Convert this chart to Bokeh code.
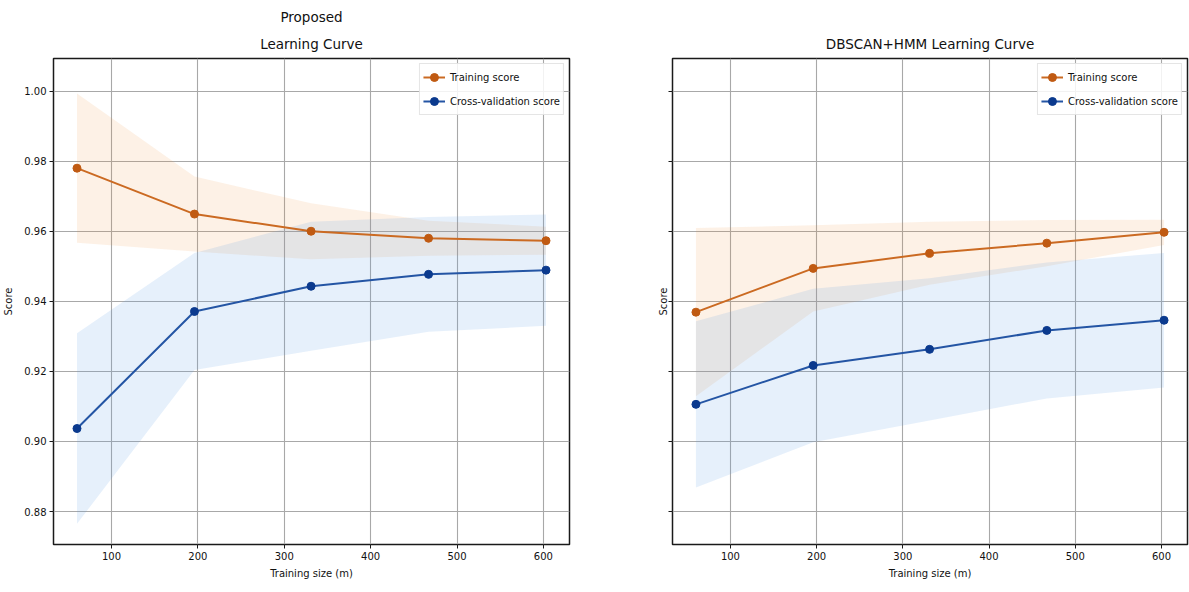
from bokeh.plotting import figure
from bokeh.layouts import row
from bokeh.models import Range1d, FixedTicker, PrintfTickFormatter, Title
from bokeh.embed import file_html
from bokeh.resources import INLINE

# ---------------- data ----------------
train_sizes = [60, 196, 331, 467, 603]
x_ticks = [100, 200, 300, 400, 500, 600]
y_ticks = [0.88, 0.90, 0.92, 0.94, 0.96, 0.98, 1.00]

# Proposed
prop_train_mean = [0.9780, 0.9649, 0.9600, 0.9580, 0.9573]
prop_train_std = [0.0213, 0.0107, 0.0080, 0.0050, 0.0040]
prop_cv_mean = [0.9037, 0.9371, 0.9443, 0.9477, 0.9489]
prop_cv_std = [0.0272, 0.0167, 0.0184, 0.0164, 0.0159]

# DBSCAN+HMM
dh_train_mean = [0.9369, 0.9494, 0.9537, 0.9566, 0.9597]
dh_train_std = [0.0240, 0.0123, 0.0090, 0.0066, 0.0036]
dh_cv_mean = [0.9106, 0.9217, 0.9263, 0.9317, 0.9346]
dh_cv_std = [0.0237, 0.0219, 0.0203, 0.0194, 0.0192]

FONT = "DejaVu Sans"
TRAIN_LINE = "#cb6a22"
TRAIN_MARK = "#c05a12"
TRAIN_FILL = "#f08c32"
CV_LINE = "#2455a4"
CV_MARK = "#0b3a8e"
CV_FILL = "#579ae6"


def make_plot(width, bl, br, titles, tm, ts, cm, cs, show_labels):
    p = figure(width=width, height=592, output_backend="svg", toolbar_location=None,
               title=None, x_range=Range1d(32.8, 630.2), y_range=Range1d(0.8706, 1.0093),
               min_border_left=bl, min_border_right=br, min_border_top=58, min_border_bottom=48)
    # titles (later-added sits further out)
    for i, t in enumerate(titles):
        p.add_layout(Title(text=t, align="center", text_font=FONT, text_font_size="13.5px",
                           text_font_style="normal", text_color="#111111",
                           standoff=14 if i == 0 else 3), "above")

    up_t = [m + s for m, s in zip(tm, ts)]
    lo_t = [m - s for m, s in zip(tm, ts)]
    up_c = [m + s for m, s in zip(cm, cs)]
    lo_c = [m - s for m, s in zip(cm, cs)]
    p.varea(x=train_sizes, y1=lo_t, y2=up_t, fill_color=TRAIN_FILL, fill_alpha=0.12)
    p.varea(x=train_sizes, y1=lo_c, y2=up_c, fill_color=CV_FILL, fill_alpha=0.15)

    p.line(train_sizes, tm, line_color=TRAIN_LINE, line_width=2, legend_label="Training score")
    p.scatter(train_sizes, tm, size=8, fill_color=TRAIN_MARK, line_color=TRAIN_MARK,
              legend_label="Training score")
    p.line(train_sizes, cm, line_color=CV_LINE, line_width=2, legend_label="Cross-validation score")
    p.scatter(train_sizes, cm, size=8, fill_color=CV_MARK, line_color=CV_MARK,
              legend_label="Cross-validation score")

    # frame & grid
    p.outline_line_color = "#1a1a1a"
    p.outline_line_width = 1.5
    p.background_fill_color = "white"
    p.border_fill_color = "white"
    p.xgrid.grid_line_color = "#a8a8a8"
    p.ygrid.grid_line_color = "#a8a8a8"
    p.xgrid.grid_line_width = 1.1
    p.ygrid.grid_line_width = 1.1

    p.xaxis.ticker = FixedTicker(ticks=x_ticks)
    p.yaxis.ticker = FixedTicker(ticks=y_ticks)
    p.yaxis.formatter = PrintfTickFormatter(format="%.2f")
    for ax in (p.xaxis, p.yaxis):
        ax.axis_line_color = None
        ax.major_tick_line_color = "#1a1a1a"
        ax.major_tick_out = 4
        ax.major_tick_in = 0
        ax.minor_tick_line_color = None
        ax.major_label_text_font = FONT
        ax.major_label_text_font_size = "10px"
        ax.major_label_text_color = "#111111"
        ax.axis_label_text_font = FONT
        ax.axis_label_text_font_size = "10px"
        ax.axis_label_text_font_style = "normal"
        ax.axis_label_text_color = "#111111"
    p.xaxis.axis_label = "Training size (m)"
    p.yaxis.axis_label = "Score"
    p.xaxis.major_label_standoff = 3
    p.xaxis.axis_label_standoff = 5
    if show_labels:
        p.yaxis.major_label_standoff = 3
        p.yaxis.axis_label_standoff = 7
    else:
        p.yaxis.major_label_text_color = None
        p.yaxis.major_label_standoff = 0
        p.yaxis.axis_label_standoff = 0

    lg = p.legend[0]
    lg.location = "top_right"
    lg.margin = 5
    lg.padding = 3
    lg.spacing = 4
    lg.glyph_width = 22
    lg.glyph_height = 20
    lg.label_standoff = 5
    lg.label_text_font = FONT
    lg.label_text_font_size = "10px"
    lg.label_text_color = "#111111"
    lg.border_line_color = "#cccccc"
    lg.border_line_width = 1
    lg.background_fill_alpha = 0.85
    return p


p1 = make_plot(620, 53, 51, ["Learning Curve", "Proposed"],
               prop_train_mean, prop_train_std, prop_cv_mean, prop_cv_std, True)
p2 = make_plot(569, 52, 2, ["DBSCAN+HMM Learning Curve"],
               dh_train_mean, dh_train_std, dh_cv_mean, dh_cv_std, False)

layout = row(p1, p2)
open("out.html", "w").write(file_html(layout, INLINE))
